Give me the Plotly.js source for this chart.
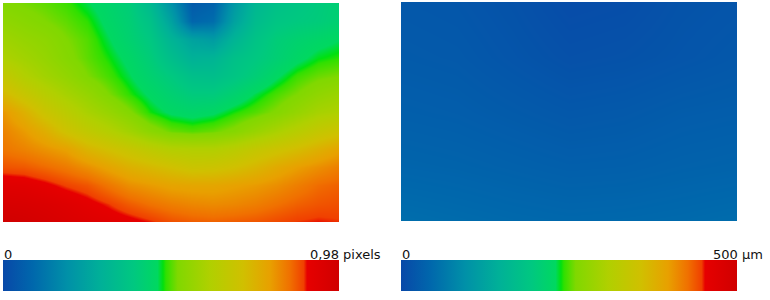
<!DOCTYPE html>
<html>
<head>
<meta charset="utf-8">
<script src="https://cdn.plot.ly/plotly-3.0.1.min.js"></script>
<style>html,body{margin:0;padding:0;background:#fff;}#chart{width:770px;height:300px;}</style>
</head>
<body>
<div id="chart"></div>
<script>
const leftX = [0, 21, 42, 63, 84, 105, 126, 147, 168, 189, 210, 231, 252, 273, 294, 315, 336];
const leftY = [3, 21, 39, 58, 76, 94, 112, 131, 149, 167, 185, 204, 222];
const leftZ = [
  [0.515, 0.505, 0.495, 0.48, 0.455, 0.43, 0.40, 0.32, 0.19, 0.05, 0.07, 0.21, 0.31, 0.35, 0.37, 0.39, 0.41],
  [0.54, 0.525, 0.51, 0.495, 0.475, 0.44, 0.41, 0.355, 0.24, 0.08, 0.10, 0.24, 0.33, 0.37, 0.385, 0.395, 0.415],
  [0.57, 0.55, 0.535, 0.51, 0.49, 0.455, 0.42, 0.38, 0.30, 0.24, 0.22, 0.30, 0.36, 0.40, 0.42, 0.435, 0.45],
  [0.60, 0.575, 0.55, 0.52, 0.495, 0.47, 0.44, 0.40, 0.34, 0.29, 0.30, 0.35, 0.38, 0.41, 0.44, 0.465, 0.475],
  [0.66, 0.61, 0.575, 0.545, 0.51, 0.485, 0.455, 0.42, 0.385, 0.345, 0.34, 0.37, 0.405, 0.445, 0.48, 0.50, 0.51],
  [0.72, 0.67, 0.625, 0.585, 0.55, 0.51, 0.475, 0.445, 0.415, 0.39, 0.39, 0.42, 0.455, 0.485, 0.51, 0.54, 0.56],
  [0.79, 0.74, 0.68, 0.635, 0.59, 0.555, 0.515, 0.47, 0.445, 0.435, 0.445, 0.47, 0.49, 0.515, 0.55, 0.585, 0.60],
  [0.815, 0.785, 0.745, 0.69, 0.65, 0.615, 0.575, 0.53, 0.50, 0.49, 0.50, 0.52, 0.555, 0.59, 0.625, 0.66, 0.685],
  [0.83, 0.815, 0.795, 0.775, 0.73, 0.70, 0.67, 0.64, 0.615, 0.61, 0.61, 0.63, 0.66, 0.685, 0.71, 0.74, 0.77],
  [0.862, 0.857, 0.842, 0.825, 0.80, 0.77, 0.74, 0.72, 0.70, 0.68, 0.685, 0.70, 0.725, 0.755, 0.78, 0.80, 0.82],
  [0.915, 0.91, 0.895, 0.875, 0.86, 0.83, 0.80, 0.785, 0.77, 0.765, 0.765, 0.775, 0.785, 0.80, 0.82, 0.84, 0.85],
  [0.95, 0.945, 0.935, 0.92, 0.90, 0.88, 0.855, 0.835, 0.82, 0.81, 0.805, 0.81, 0.82, 0.835, 0.85, 0.86, 0.865],
  [0.98, 0.97, 0.955, 0.94, 0.925, 0.912, 0.90, 0.885, 0.865, 0.855, 0.85, 0.855, 0.86, 0.87, 0.88, 0.885, 0.88]
];
// Right map: displacement in micrometres (0 .. 500)
const rightX = [0, 56, 112, 168, 224, 280, 336];
const rightY = [2, 57, 112, 166, 221];
const rightZ = [
  [22, 20, 14, 6, 8, 15, 18],
  [26, 24, 18, 12, 14, 18, 22],
  [32, 30, 26, 22, 24, 28, 30],
  [40, 38, 35, 32, 33, 36, 38],
  [52, 49, 46, 44, 45, 47, 50]
];
const leftRange = [0, 0.98];
const rightRange = [0, 500];
const leftLabels = ['0', '0,98 pixels'];
const rightLabels = ['0', '500 \u00b5m'];

const cscale = [
  [0, '#0848a8'], [0.09, '#0068ac'], [0.19, '#0090a8'], [0.29, '#00b098'],
  [0.39, '#00c880'], [0.46, '#00d860'], [0.476, '#00e010'], [0.485, '#30e000'],
  [0.52, '#80d800'], [0.616, '#b0d000'], [0.714, '#d0c000'], [0.795, '#e8a000'],
  [0.854, '#f07000'], [0.895, '#f04000'], [0.905, '#e60000'], [1, '#d00000']
];

const W = 770, H = 300;
function cb(xpx) {
  return {
    orientation: 'h', x: xpx / W, xanchor: 'left', y: 1 - 291 / H, yanchor: 'bottom',
    len: 336, lenmode: 'pixels', thickness: 31, thicknessmode: 'pixels',
    xpad: 0, ypad: 0, outlinewidth: 0, showticklabels: false, ticks: ''
  };
}

const traces = [
  {type: 'heatmap', x: leftX, y: leftY, z: leftZ, zmin: leftRange[0], zmax: leftRange[1],
   colorscale: cscale, zsmooth: 'best', xaxis: 'x', yaxis: 'y', colorbar: cb(3), hoverinfo: 'skip'},
  {type: 'heatmap', x: rightX, y: rightY, z: rightZ, zmin: rightRange[0], zmax: rightRange[1],
   colorscale: cscale, zsmooth: 'best', xaxis: 'x2', yaxis: 'y2', colorbar: cb(401), hoverinfo: 'skip'}
];

const font = {family: 'DejaVu Sans, sans-serif', size: 13, color: '#111'};
const ann = [
  {text: leftLabels[0], x: 4 / W},
  {text: leftLabels[1], x: 310 / W},
  {text: rightLabels[0], x: 402 / W},
  {text: rightLabels[1], x: 713 / W}
].map(a => Object.assign({xref: 'paper', yref: 'paper', y: 1 - 263 / H, yanchor: 'bottom', xanchor: 'left',
  showarrow: false, font: font, xshift: -1, borderpad: 0}, a));

const ax = {visible: false, showgrid: false, zeroline: false, fixedrange: true};
const layout = {
  width: W, height: H, margin: {l: 0, r: 0, t: 0, b: 0},
  paper_bgcolor: '#fff', plot_bgcolor: '#fff', showlegend: false,
  xaxis: Object.assign({}, ax, {domain: [3 / W, 339 / W], range: [0, 336], anchor: 'y'}),
  yaxis: Object.assign({}, ax, {domain: [1 - 222 / H, 1 - 3 / H], range: [222, 3], anchor: 'x'}),
  xaxis2: Object.assign({}, ax, {domain: [401 / W, 737 / W], range: [0, 336], anchor: 'y2'}),
  yaxis2: Object.assign({}, ax, {domain: [1 - 221 / H, 1 - 2 / H], range: [221, 2], anchor: 'x2'}),
  annotations: ann
};
Plotly.newPlot('chart', traces, layout, {displayModeBar: false, staticPlot: true});
</script>
</body>
</html>
